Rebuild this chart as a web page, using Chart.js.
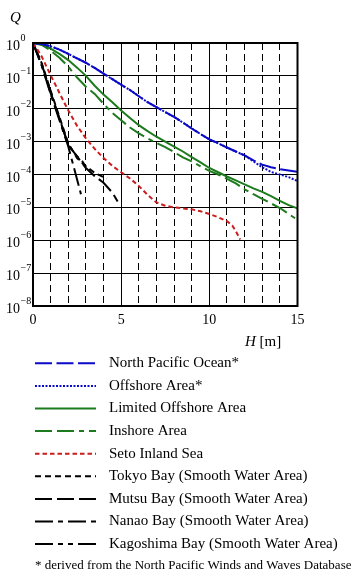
<!DOCTYPE html>
<html><head><meta charset="utf-8">
<script src="https://cdn.jsdelivr.net/npm/chart.js@4.4.1/dist/chart.umd.min.js"></script>
<style>html,body{margin:0;padding:0;background:#fff;overflow:hidden}#wrap{width:362px;height:588px;position:relative}canvas{display:block}</style>
</head><body><div id="wrap"><canvas id="c" width="362" height="588"></canvas></div>
<script>
// ---- tick labels ----
const xTickLabels = ['0', '5', '10', '15'];
const yTickExponents = [0, -1, -2, -3, -4, -5, -6, -7, -8];

// ---- series names ----
const seriesNames = [
  'North Pacific Ocean*', 'Offshore Area*', 'Limited Offshore Area', 'Inshore Area',
  'Seto Inland Sea', 'Tokyo Bay (Smooth Water Area)', 'Mutsu Bay (Smooth Water Area)',
  'Nanao Bay (Smooth Water Area)', 'Kagoshima Bay (Smooth Water Area)'
];
const footnote = '* derived from the North Pacific Winds and Waves Database';

// ---- series values: H [m] and exceedance probability Q ----
const npoH = [0,0.5,1,1.5,2,2.5,3,3.5,4,4.5,5,5.5,6,6.5,7,7.5,8,8.5,9,9.5,10,10.5,11,11.5,12,12.5,13,13.5,14,14.5,15];
const npoQ = [1,0.933,0.794,0.631,0.468,0.339,0.251,0.174,0.117,0.0794,0.0537,0.0372,0.024,0.0158,0.0112,0.00794,0.00562,0.0038,0.00251,0.0017,0.00117,8.91e-4,6.61e-4,5.01e-4,3.8e-4,2.69e-4,2.0e-4,1.66e-4,1.45e-4,1.32e-4,1.2e-4];

const offH = [0,0.5,1,1.5,2,2.5,3,3.5,4,4.5,5,5.5,6,6.5,7,7.5,8,8.5,9,9.5,10,10.5,11,11.5,12,12.5,13,13.5,14,14.5,15];
const offQ = [1,0.933,0.794,0.631,0.468,0.339,0.251,0.174,0.117,0.0794,0.0537,0.0372,0.024,0.0158,0.0112,0.00794,0.00562,0.0038,0.00251,0.0017,0.00117,8.91e-4,6.61e-4,5.01e-4,3.8e-4,2.51e-4,1.66e-4,1.2e-4,1.0e-4,8.32e-5,6.31e-5];

const limH = [0,0.5,1,1.5,2,2.5,3,3.5,4,4.5,5,5.5,6,6.5,7,7.5,8,8.5,9,9.5,10,10.5,11,11.5,12,12.5,13,13.5,14,14.5,15];
const limQ = [1,0.912,0.676,0.468,0.302,0.178,0.1,0.0501,0.0269,0.0158,0.00891,0.00525,0.00316,0.00209,0.00141,0.001,7.08e-4,5.01e-4,3.39e-4,2.34e-4,1.58e-4,1.17e-4,8.71e-5,6.61e-5,5.01e-5,3.8e-5,2.95e-5,2.19e-5,1.58e-5,1.17e-5,9.33e-6];

const insH = [0,0.5,1,1.5,2,2.5,3,3.5,4,4.5,5,5.5,6,6.5,7,7.5,8,8.5,9,9.5,10,10.5,11,11.5,12,12.5,13,13.5,14,14.5,15];
const insQ = [1,0.871,0.589,0.355,0.191,0.0891,0.0468,0.0282,0.0141,0.00741,0.00447,0.00269,0.00178,0.00126,9.12e-4,6.76e-4,4.79e-4,3.31e-4,2.51e-4,1.78e-4,1.29e-4,1.0e-4,7.41e-5,5.37e-5,3.55e-5,2.51e-5,1.82e-5,1.32e-5,9.55e-6,6.31e-6,4.17e-6];

const setoH = [0,0.25,0.5,1,1.5,2,2.5,3,3.5,4,4.5,5,5.5,6,6.5,7,7.5,8,8.5,9,9.5,10,10.5,11,11.3,11.55,11.75];
const setoQ = [1,0.631,0.38,0.105,0.0302,0.00891,0.00302,0.00126,6.03e-4,3.16e-4,1.82e-4,1.17e-4,7.59e-5,4.47e-5,2.4e-5,1.41e-5,1.12e-5,1.0e-5,9.33e-6,8.71e-6,7.59e-6,6.31e-6,5.01e-6,3.8e-6,2.82e-6,1.7e-6,1.05e-6];

const tokyoH = [0,0.5,1,1.5,2,2.5,3,3.5,4,4.2];
const tokyoQ = [1,0.24,0.0355,0.00562,8.91e-4,3.16e-4,1.78e-4,1.12e-4,8.32e-5,7.59e-5];

const mutsuH = [0,0.5,1,1.5,2,2.5,3,3.5,4,4.5,4.8];
const mutsuQ = [1,0.224,0.0316,0.00501,7.94e-4,3.55e-4,1.58e-4,8.91e-5,5.62e-5,2.82e-5,1.51e-5];

const nanaoH = [0,0.5,1,1.5,2,2.3,2.5,2.72];
const nanaoQ = [1,0.2,0.0282,0.00447,7.08e-4,1.78e-4,7.08e-5,2.51e-5];

const kagoH = [0,0.5,1,1.5,2,2.5,2.8,3.0];
const kagoQ = [1,0.209,0.0302,0.00501,7.94e-4,3.55e-4,2.51e-4,1.66e-4];

// ---- build datasets ----
const pts = (H, Q) => H.map((h, i) => ({x: h, y: Q[i]}));
const BLUE = '#0a0ac8', GREEN = '#1d7a1d', RED = '#cc1c1c', BLACK = '#000000';
const seriesData = [[npoH,npoQ],[offH,offQ],[limH,limQ],[insH,insQ],[setoH,setoQ],[tokyoH,tokyoQ],[mutsuH,mutsuQ],[nanaoH,nanaoQ],[kagoH,kagoQ]];
const styles = [
  {c: BLUE, d: [17,4.5]},
  {c: BLUE, d: [2,1.5]},
  {c: GREEN, d: []},
  {c: GREEN, d: [17,5,17,5,5,5]},
  {c: RED, d: [4.5,3]},
  {c: BLACK, d: [6,4]},
  {c: BLACK, d: [17,5]},
  {c: BLACK, d: [18,5,5,5]},
  {c: BLACK, d: [18,5,5,5,5,5]}
];
const datasets = seriesData.map((s, i) => ({
  label: seriesNames[i],
  data: pts(s[0], s[1]),
  borderColor: styles[i].c,
  backgroundColor: styles[i].c,
  borderDash: styles[i].d,
  borderWidth: 2,
  pointRadius: 0,
  tension: 0,
  fill: false
}));

const SERIF = '"Liberation Serif", "Times New Roman", serif';

const decor = {
  id: 'decor',
  afterDraw(chart) {
    const {ctx, chartArea: a, scales: {x, y}} = chart;
    ctx.save();
    ctx.setLineDash([]);
    // frame
    ctx.lineWidth = 2; ctx.strokeStyle = '#000';
    ctx.strokeRect(a.left, a.top, a.right - a.left, a.bottom - a.top);
    ctx.fillStyle = '#000';
    // y tick labels 10^n
    yTickExponents.forEach(e => {
      const py = y.getPixelForValue(Math.pow(10, e));
      ctx.font = '14px ' + SERIF; ctx.textAlign = 'right'; ctx.textBaseline = 'alphabetic';
      ctx.fillText('10', 20, py + 7);
      ctx.font = '10px ' + SERIF; ctx.textAlign = 'left';
      ctx.fillText(e === 0 ? '0' : '\u2212' + (-e), 20.5, py - 2);
    });
    // x tick labels
    ctx.font = '14px ' + SERIF; ctx.textAlign = 'center'; ctx.textBaseline = 'alphabetic';
    xTickLabels.forEach(t => {
      ctx.fillText(t, x.getPixelForValue(Number(t)), 324);
    });
    // axis titles
    ctx.textAlign = 'left';
    ctx.font = 'italic 15px ' + SERIF;
    ctx.fillText('Q', 10, 22);
    ctx.fillText('H', 245, 346);
    const hw = ctx.measureText('H').width;
    ctx.font = '15px ' + SERIF;
    ctx.fillText(' [m]', 245 + hw, 346);
    // legend
    chart.data.datasets.forEach((ds, i) => {
      const ly = 363.3 + 22.6 * i;
      ctx.save();
      ctx.strokeStyle = ds.borderColor; ctx.lineWidth = 2;
      ctx.setLineDash(ds.borderDash || []);
      ctx.beginPath(); ctx.moveTo(35, ly); ctx.lineTo(96, ly); ctx.stroke();
      ctx.restore();
      ctx.font = '15px ' + SERIF; ctx.textBaseline = 'middle'; ctx.textAlign = 'left';
      ctx.fillStyle = '#000';
      ctx.fillText(ds.label, 109, ly);
    });
    ctx.font = '13px ' + SERIF; ctx.textBaseline = 'middle';
    ctx.fillText(footnote, 35, 566);
    ctx.restore();
  }
};

new Chart(document.getElementById('c'), {
  type: 'line',
  data: {datasets},
  options: {
    responsive: false,
    animation: false,
    devicePixelRatio: 1,
    layout: {padding: {left: 33, top: 43, right: 64.5, bottom: 282}},
    plugins: {legend: {display: false}, tooltip: {enabled: false}},
    scales: {
      x: {
        type: 'linear', min: 0, max: 15,
        ticks: {display: false, stepSize: 1},
        grid: {color: '#000', lineWidth: 1, drawTicks: false},
        border: {display: false, dash: (c) => (c.tick && c.tick.value % 5 !== 0) ? [7, 4] : []}
      },
      y: {
        type: 'logarithmic', min: 1e-8, max: 1,
        afterBuildTicks: (s) => { s.ticks = yTickExponents.map(e => ({value: Math.pow(10, e)})); },
        ticks: {display: false},
        grid: {color: '#000', lineWidth: 1, drawTicks: false},
        border: {display: false}
      }
    }
  },
  plugins: [decor]
});
</script>
</body></html>
